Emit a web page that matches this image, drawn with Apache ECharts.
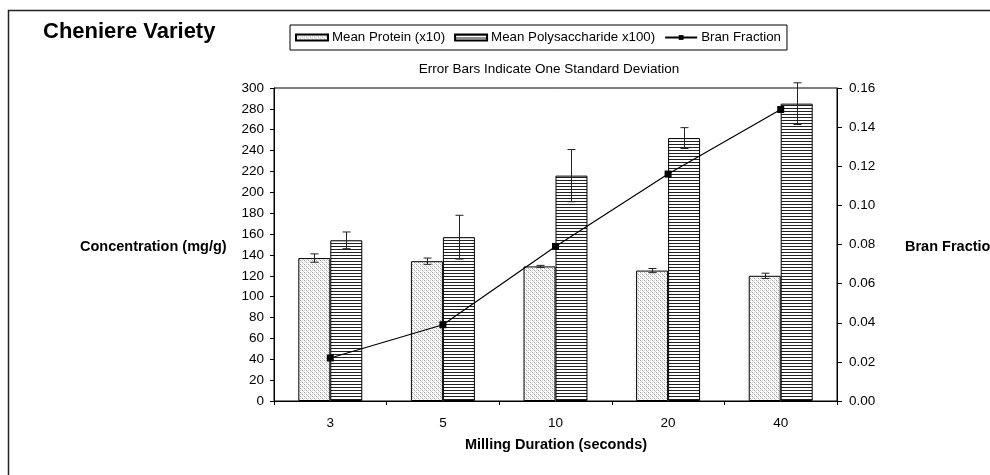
<!DOCTYPE html>
<html>
<head>
<meta charset="utf-8">
<script src="https://cdn.jsdelivr.net/npm/echarts@6/dist/echarts.min.js"></script>
<style>
  html, body { margin: 0; padding: 0; background: #fff; }
  #main { width: 990px; height: 475px; }
</style>
</head>
<body>
<div id="main"></div>
<script>
// data
var durations = ['3', '5', '10', '20', '40'];
var proteinMean = [137, 134, 129, 125, 120];
var proteinSD = [4, 3, 1, 2, 2.5];
var polyMean = [154, 157, 216, 252, 285];
var polySD = [8, 21, 25, 10, 20];
var branFraction = [0.022, 0.039, 0.079, 0.116, 0.149];

// fill patterns for the bars
function dotPattern() {
  var c = document.createElement('canvas');
  c.width = 4; c.height = 4;
  var ctx = c.getContext('2d');
  ctx.fillStyle = '#fff';
  ctx.fillRect(0, 0, 4, 4);
  ctx.fillStyle = '#a0a0a0';
  ctx.fillRect(0, 0, 1, 1);
  ctx.fillRect(2, 2, 1, 1);
  ctx.fillStyle = '#d4d4d4';
  ctx.fillRect(2, 0, 1, 1);
  ctx.fillRect(0, 2, 1, 1);
  ctx.fillRect(1, 1, 1, 1);
  ctx.fillRect(3, 3, 1, 1);
  return c;
}
function linePattern() {
  var c = document.createElement('canvas');
  c.width = 4; c.height = 3;
  var ctx = c.getContext('2d');
  ctx.fillStyle = '#fff';
  ctx.fillRect(0, 0, 4, 3);
  ctx.fillStyle = '#222';
  ctx.fillRect(0, 0, 4, 1);
  return c;
}

var BAR_FRAC = 0.284; // each bar's share of the category band

function errorData(means, sds) {
  return means.map(function (m, i) { return [i, m - sds[i], m + sds[i]]; });
}

function errorRender(side) {
  return function (params, api) {
    var band = api.size([1, 0])[0];
    var off = side * band * BAR_FRAC / 2;
    var lo = api.coord([api.value(0), api.value(1)]);
    var hi = api.coord([api.value(0), api.value(2)]);
    var x = Math.round(lo[0] + off) + 0.5;
    var cap = 4;
    var st = { stroke: '#222', lineWidth: 1 };
    return {
      type: 'group',
      children: [
        { type: 'line', shape: { x1: x, y1: lo[1], x2: x, y2: hi[1] }, style: st },
        { type: 'line', shape: { x1: x - cap, y1: lo[1], x2: x + cap, y2: lo[1] }, style: st },
        { type: 'line', shape: { x1: x - cap, y1: hi[1], x2: x + cap, y2: hi[1] }, style: st }
      ]
    };
  };
}

var font = 'Liberation Sans, Arial, sans-serif';
var chart = echarts.init(document.getElementById('main'));

chart.setOption({
  backgroundColor: '#fff',
  animation: false,
  textStyle: { fontFamily: font, color: '#000' },
  title: [
    { text: 'Cheniere Variety', left: 38, top: 16,
      textStyle: { fontFamily: font, fontSize: 22, fontWeight: 'bold', color: '#000' } },
    { text: 'Error Bars Indicate One Standard Deviation', left: 544, top: 57, textAlign: 'center',
      textStyle: { fontFamily: font, fontSize: 13.5, fontWeight: 'normal', color: '#000' } }
  ],
  legend: {
    left: 290, top: 25,
    padding: [6, 6, 6, 5],
    itemGap: 9,
    itemWidth: 32, itemHeight: 6,
    borderColor: '#000', borderWidth: 1,
    textStyle: { fontFamily: font, fontSize: 13.3, color: '#000', padding: [0, 0, 0, -1] },
    data: [
      { name: 'Mean Protein (x10)', icon: 'rect' },
      { name: 'Mean Polysaccharide x100)', icon: 'rect' },
      { name: 'Bran Fraction' }
    ]
  },
  grid: {
    left: 274, right: 153, top: 88, bottom: 74,
    show: true, borderColor: '#000', borderWidth: 1
  },
  xAxis: {
    type: 'category',
    data: durations,
    axisLine: { lineStyle: { color: '#000', width: 1 } },
    axisTick: { show: true, length: 4, lineStyle: { color: '#000' } },
    axisLabel: { fontFamily: font, fontSize: 13.5, color: '#000', margin: 15 }
  },
  yAxis: [
    {
      type: 'value', min: 0, max: 300, interval: 20,
      splitLine: { show: false },
      axisLine: { show: true, lineStyle: { color: '#000' } },
      axisTick: { show: true, length: 4, lineStyle: { color: '#000' } },
      axisLabel: { fontFamily: font, fontSize: 13.5, color: '#000', margin: 10 }
    },
    {
      type: 'value', min: 0, max: 0.16, interval: 0.02,
      splitLine: { show: false },
      axisLine: { show: true, lineStyle: { color: '#000' } },
      axisTick: { show: true, length: 5, lineStyle: { color: '#000' } },
      axisLabel: { fontFamily: font, fontSize: 13.5, color: '#000', margin: 12,
        formatter: function (v) { return v.toFixed(2); } }
    }
  ],
  graphic: [
    { type: 'rect', shape: { x: 8.5, y: 10.5, width: 1100, height: 600 },
      style: { fill: null, stroke: '#222', lineWidth: 1.5 }, silent: true, z: -10 },
    { type: 'text', x: 80, y: 247,
      style: { text: 'Concentration (mg/g)', font: 'bold 14.5px ' + font, fill: '#000',
        align: 'left', verticalAlign: 'middle' } },
    { type: 'text', x: 905, y: 247,
      style: { text: 'Bran Fraction', font: 'bold 14.5px ' + font, fill: '#000',
        align: 'left', verticalAlign: 'middle' } },
    { type: 'text', x: 556, y: 445,
      style: { text: 'Milling Duration (seconds)', font: 'bold 14.5px ' + font, fill: '#000',
        align: 'center', verticalAlign: 'middle' } }
  ],
  series: [
    {
      name: 'Mean Protein (x10)', type: 'bar',
      data: proteinMean,
      barWidth: (BAR_FRAC * 100) + '%', barGap: 0,
      itemStyle: { color: { image: dotPattern(), repeat: 'repeat' }, borderColor: '#000', borderWidth: 1 }
    },
    {
      name: 'Mean Polysaccharide x100)', type: 'bar',
      data: polyMean,
      barWidth: (BAR_FRAC * 100) + '%', barGap: 0,
      itemStyle: { color: { image: linePattern(), repeat: 'repeat' }, borderColor: '#000', borderWidth: 1 }
    },
    {
      name: 'protein sd', type: 'custom', renderItem: errorRender(-1),
      data: errorData(proteinMean, proteinSD), z: 5, clip: false, silent: true
    },
    {
      name: 'poly sd', type: 'custom', renderItem: errorRender(1),
      data: errorData(polyMean, polySD), z: 5, clip: false, silent: true
    },
    {
      name: 'Bran Fraction', type: 'line', yAxisIndex: 1,
      data: branFraction,
      symbol: 'rect', symbolSize: 7, z: 10,
      lineStyle: { color: '#000', width: 1.2 },
      itemStyle: { color: '#000' }
    }
  ]
});
</script>
</body>
</html>
